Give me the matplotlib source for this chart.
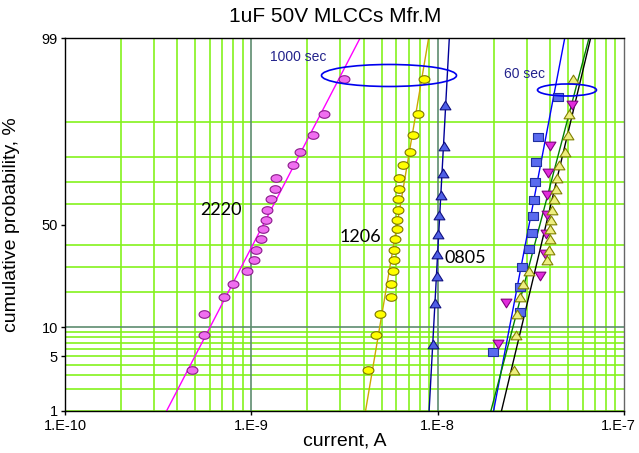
import numpy as np
import matplotlib
matplotlib.use('Agg')
import matplotlib.pyplot as plt
import matplotlib.transforms as mtransforms
from matplotlib.patches import Ellipse
from matplotlib.path import Path
from statistics import NormalDist

plt.rcParams['font.family'] = ['Liberation Sans', 'DejaVu Sans']

# leakage current, A (sorted low -> high)
# 1000 sec readings
i_2220 = [0.482e-9, 0.557e-9, 0.557e-9, 0.716e-9, 0.80e-9, 0.945e-9, 1.03e-9,
          1.06e-9, 1.13e-9, 1.15e-9, 1.20e-9, 1.21e-9, 1.27e-9, 1.34e-9,
          1.36e-9, 1.68e-9, 1.82e-9, 2.13e-9, 2.45e-9, 3.15e-9]
i_1206 = [4.25e-9, 4.65e-9, 4.93e-9, 5.62e-9, 5.62e-9, 5.78e-9, 5.81e-9,
          5.86e-9, 5.93e-9, 6.08e-9, 6.08e-9, 6.13e-9, 6.15e-9, 6.18e-9,
          6.18e-9, 6.52e-9, 7.14e-9, 7.41e-9, 7.88e-9, 8.48e-9]
i_0805 = [9.45e-9, 9.68e-9, 9.89e-9, 9.89e-9, 1.005e-8, 1.014e-8, 1.047e-8,
          1.065e-8, 1.086e-8, 1.096e-8]
# 60 sec readings
i_2220_60 = [1.976e-8, 2.77e-8, 2.78e-8, 2.83e-8, 3.10e-8, 3.19e-8, 3.25e-8,
             3.29e-8, 3.33e-8, 3.35e-8, 3.46e-8, 4.44e-8]
i_1206_60 = [2.115e-8, 2.32e-8, 3.56e-8, 3.79e-8, 3.83e-8, 3.84e-8, 3.85e-8,
             3.90e-8, 4.01e-8, 5.26e-8]
i_0805_60 = [2.58e-8, 2.63e-8, 2.68e-8, 2.75e-8, 2.86e-8, 3.11e-8, 3.88e-8,
             3.98e-8, 4.01e-8, 4.03e-8, 4.06e-8, 4.10e-8, 4.22e-8, 4.32e-8,
             4.36e-8, 4.48e-8, 4.85e-8, 4.99e-8, 5.09e-8, 5.31e-8]

y_ticks = [1, 5, 10, 50, 99]
y_grid = [1, 2, 3, 4, 5, 6, 7, 8, 9, 20, 30, 40, 60, 70, 80, 90]
x_ticks = [1e-10, 1e-9, 1e-8, 1e-7]
x_ticklabels = ['1.E-10', '1.E-9', '1.E-8', '1.E-7']

nd = NormalDist()
inv_cdf = np.vectorize(nd.inv_cdf, otypes=[float])
cdf = np.vectorize(nd.cdf, otypes=[float])


def prob_fwd(p):
    p = np.clip(np.asarray(p, float), 1e-4, 100 - 1e-4)
    return inv_cdf(p / 100.0)


def prob_inv(z):
    return cdf(np.asarray(z, float)) * 100.0


def median_rank(n):
    i = np.arange(1, n + 1)
    return (i - 0.3) / (n + 0.4) * 100.0


def oval(ry):
    t = np.linspace(0, 2 * np.pi, 41)
    return Path(np.column_stack([np.cos(t), ry * np.sin(t)]), closed=True)


def box(ry):
    return Path([(-1, -ry), (1, -ry), (1, ry), (-1, ry), (-1, -ry)], closed=True)


def tri(ry, up=True):
    s = 1 if up else -1
    return Path([(0, s * ry), (-1, -s * ry), (1, -s * ry), (0, s * ry)], closed=True)


fig = plt.figure(figsize=(6.39, 4.53), dpi=100)
ax = fig.add_axes([65 / 639, 42 / 453, 559 / 639, 373 / 453])
ax.set_xscale('log')
ax.set_yscale('function', functions=(prob_fwd, prob_inv))
ax.set_xlim(1e-10, 1e-7)
ax.set_ylim(1, 99)

# grid
green = '#84F21C'
dark = '#5E8C70'
for d in [1e-10, 1e-9, 1e-8]:
    for k in range(2, 10):
        ax.axvline(d * k, color=green, lw=1.2, zorder=0)
for d in [1e-9, 1e-8]:
    ax.axvline(d, color=dark, lw=1.2, zorder=0.5)
for p in y_grid:
    ax.axhline(p, color=green, lw=1.2, zorder=0)
ax.axhline(10, color=dark, lw=1.2, zorder=0.5)

series = [
    (i_2220, oval(0.7), '#F06EF0', '#8A1A8A', '#FF00FF'),
    (i_1206, oval(0.7), '#FFFF00', '#7A7400', '#CCAA00'),
    (i_0805, tri(0.8), '#4F5FE6', '#101080', '#000099'),
    (i_2220_60, box(0.72), '#5A6BEF', '#2030A0', '#0000FF'),
    (i_1206_60, tri(0.8, up=False), '#E22CDC', '#800080', '#008000'),
    (i_0805_60, tri(0.8), '#EEEE80', '#808000', '#000000'),
]

z_end = np.array([-2.5, 2.5])
for cur, mk, fc, ec, lc in series:
    cur = np.asarray(cur)
    p = median_rank(len(cur))
    z = prob_fwd(p)
    # straight-line fit of log current against normal quantile
    b, a = np.polyfit(z, np.log10(cur), 1)
    ax.plot(10 ** (a + b * z_end), prob_inv(z_end), color=lc, lw=1.0, zorder=2)
    ax.plot(cur, p, ls='none', marker=mk, ms=7.8, mfc=fc, mec=ec, mew=0.8,
            zorder=3)

ax.set_xticks(x_ticks)
ax.set_xticklabels(x_ticklabels)
ax.xaxis.set_minor_locator(matplotlib.ticker.NullLocator())
ax.set_yticks(y_ticks)
ax.set_yticklabels([str(v) for v in y_ticks])
ax.yaxis.set_minor_locator(matplotlib.ticker.NullLocator())
ax.tick_params(axis='both', labelsize=10.5, length=3, width=1, pad=2)
ax.tick_params(axis='x', pad=3)
for s in ax.spines.values():
    s.set_color('black')
    s.set_linewidth(1.0)
ax.spines['right'].set_color('#666666')

# keep the last x label inside the figure
last = ax.get_xticklabels()[-1]
last.set_horizontalalignment('right')
last.set_transform(last.get_transform() +
                   mtransforms.ScaledTranslation(0.12, 0, fig.dpi_scale_trans))

ax.set_xlabel('current, A', fontsize=14)
ax.set_ylabel('cumulative probability, %', fontsize=14)
ax.xaxis.set_label_coords(0.5, -0.058)
ax.yaxis.set_label_coords(-0.08, 0.5)

fig.text(335 / 639, 1 - 17 / 453, '1uF 50V MLCCs Mfr.M', fontsize=15,
         ha='center', va='center')

for txt, xy in [('2220', (0.279, 0.539)), ('1206', (0.5277, 0.4665)),
                ('0805', (0.7156, 0.4102))]:
    ax.text(*xy, txt, transform=ax.transAxes, fontsize=13, family='Lato',
            ha='center', va='center', zorder=4)

ax.text(0.4168, 0.949, '1000 sec', transform=ax.transAxes, fontsize=10,
        color='#23238C', ha='center', va='center', zorder=4)
ax.text(0.822, 0.9035, '60 sec', transform=ax.transAxes, fontsize=10,
        color='#23238C', ha='center', va='center', zorder=4)
ax.add_patch(Ellipse((0.5796, 0.8995), 0.2415, 0.059, transform=ax.transAxes,
                     fill=False, ec='#0000EE', lw=1.2, zorder=4))
ax.add_patch(Ellipse((0.898, 0.8606), 0.1055, 0.0322, transform=ax.transAxes,
                     fill=False, ec='#0000EE', lw=1.2, zorder=4))

fig.savefig('out.png', dpi=100)
